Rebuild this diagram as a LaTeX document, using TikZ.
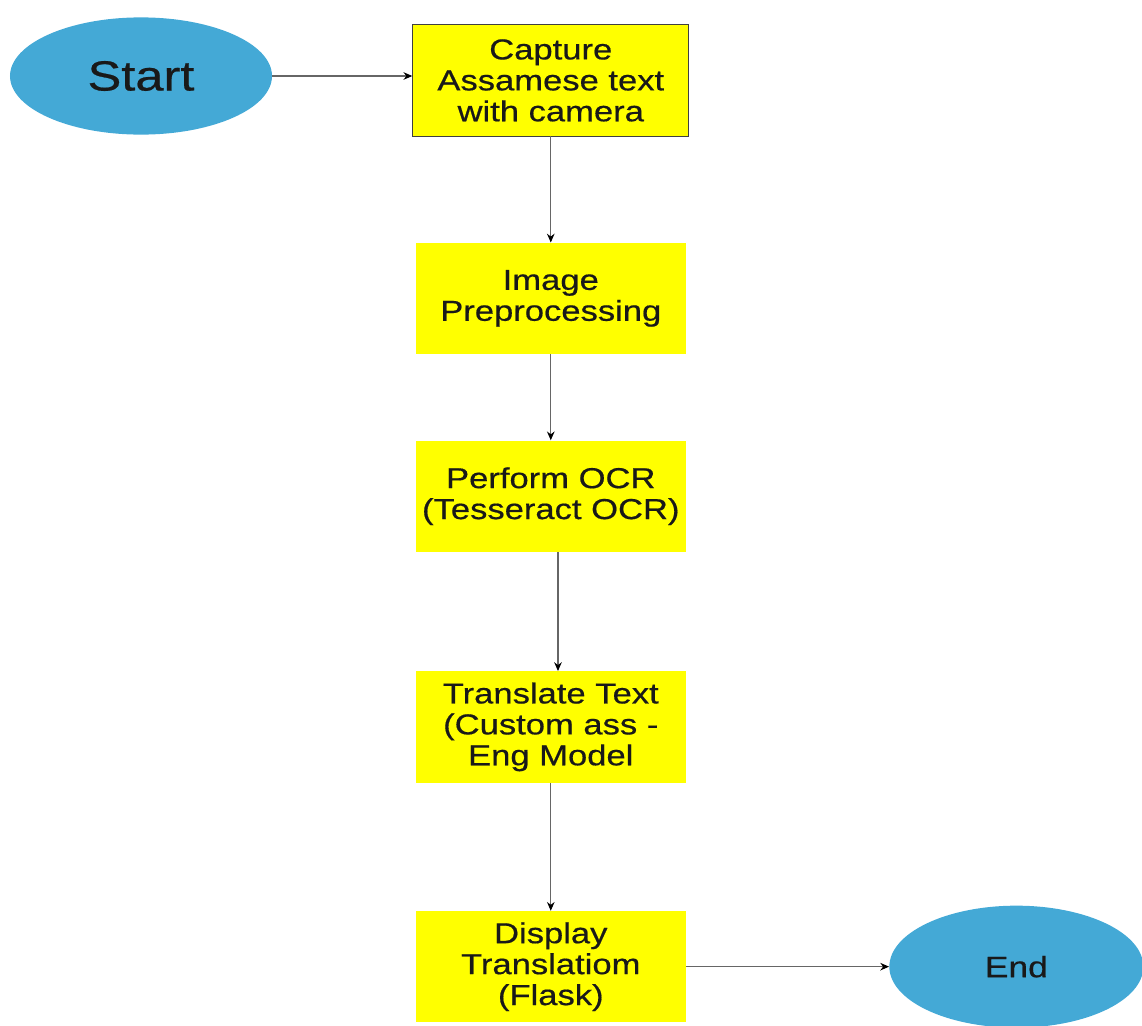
\documentclass[tikz,border=0pt]{standalone}
\usepackage{fontspec}
\setmainfont[FakeStretch=1.2, FakeBold=0.5]{Liberation Sans}
\usetikzlibrary{shapes.geometric, arrows.meta, positioning}

\definecolor{termblue}{RGB}{68,169,214}
\definecolor{procyellow}{RGB}{255,255,0}

\begin{document}
\begin{tikzpicture}[
    node distance=2.6cm and 3.5cm,
    % Style definitions
    terminal/.style={ellipse, minimum width=6.55cm, minimum height=2.93cm,
                     text centered, fill=termblue, text=black!90},
    process/.style={rectangle, minimum width=6.75cm, minimum height=2.78cm,
                    align=center, fill=procyellow, text=black!90,
                    font=\fontsize{20.5}{22}\selectfont},
    arrow/.style={-{Stealth[length=2.2mm, width=1.9mm, color=black]}, draw=black!60, line width=0.8pt},
]

\useasboundingbox (0,0) rectangle (28.55,-25.625);

% Start / capture
\node[terminal, font=\fontsize{30}{32}\selectfont] (start) at (3.525,-1.9) {Start};
\node[process, draw=black!75, line width=0.7pt, minimum width=6.9cm,
      right=3.5cm of start, yshift=-0.11cm] (capture) {Capture\\Assamese text\\with camera};

% Processing chain
\node[process, below=2.65cm of capture] (preproc) {Image\\Preprocessing};
\node[process, below=2.15cm of preproc] (ocr) {Perform OCR\\(Tesseract OCR)};
\node[process, below=2.975cm of ocr] (translate) {Translate Text\\(Custom ass -\\Eng Model};
\node[process, below=3.2cm of translate] (display) {Display\\Translatiom\\(Flask)};

% End
\node[terminal, minimum width=6.35cm, minimum height=3.05cm,
      font=\fontsize{21}{23}\selectfont, right=5.075cm of display] (finish) {End};

% Arrows
\draw[arrow] (start) -- (start -| capture.west);
\draw[arrow] (capture) -- (preproc);
\draw[arrow] (preproc) -- (ocr);
\draw[arrow] ([xshift=0.18cm]ocr.south) -- ([xshift=0.18cm]translate.north);
\draw[arrow] (translate) -- (display);
\draw[arrow] (display) -- (finish);

\end{tikzpicture}
\end{document}
